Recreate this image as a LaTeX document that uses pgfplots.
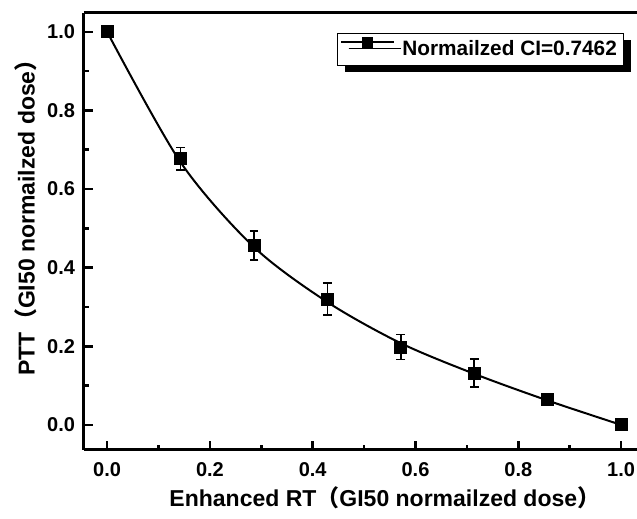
\documentclass[border=0pt]{standalone}
\usepackage{pgfplots}
\pgfplotsset{compat=1.18}
\usepackage{fontspec}
\setmainfont{Liberation Sans}
\newfontfamily\cjk{Noto Sans CJK SC}
\usetikzlibrary{shadows}
\begin{document}
\begin{tikzpicture}
\begin{axis}[
  scale only axis,
  width=276.5pt, height=218.5pt,
  xmin=-0.045, xmax=1.031, ymin=-0.064, ymax=1.048,
  axis x line=box, axis y line=left,
  y axis line style={-},
  axis line style={line width=1.5pt},
  xtick pos=bottom, ytick pos=left,
  tick align=inside,
  xtick={0,0.2,0.4,0.6,0.8,1.0},
  ytick={0,0.2,0.4,0.6,0.8,1.0},
  minor x tick num=1, minor y tick num=1,
  major tick length=4.5pt, minor tick length=2.5pt,
  every tick/.style={black, line width=1.3pt},
  ticklabel style={font=\bfseries\fontsize{10}{12}\selectfont},
  /pgf/number format/assume math mode=true,
  xticklabel style={yshift=-2.5pt, /pgf/number format/.cd, fixed, fixed zerofill, precision=1},
  yticklabel style={xshift=-1pt, /pgf/number format/.cd, fixed, fixed zerofill, precision=1},
  xlabel={\bfseries Enhanced RT{\cjk （}GI50 normailzed dose{\cjk ）}},
  ylabel={\bfseries PTT{\cjk （}GI50 normailzed dose{\cjk ）}},
  label style={font=\fontsize{11.5}{13}\selectfont},
  xlabel style={at={(axis description cs:0.544,0)}, anchor=center, yshift=-24pt},
  ylabel style={at={(axis description cs:0,0.545)}, anchor=center, yshift=29pt},
  legend style={at={(axis description cs:0.4575,0.954)}, anchor=north west,
    draw=black, line width=0.6pt, fill=white,
    font=\bfseries\fontsize{10.4}{12}\selectfont,
    inner xsep=1.5pt, inner ysep=1.5pt,
    /tikz/every odd column/.append style={column sep=2pt},
    drop shadow={shadow xshift=3.5pt, shadow yshift=-3pt, fill=black, opacity=1}},
  legend image code/.code={\draw[#1, sharp plot, mark repeat=2, mark phase=2, mark size=2.4pt, line width=0.9pt] plot coordinates {(0pt,3.7pt) (13pt,3.7pt) (26pt,3.7pt)};},
]
\addplot[black, line width=1pt, smooth, forget plot] coordinates {
(0,1) (0.143,0.668) (0.286,0.452) (0.429,0.312) (0.571,0.208) (0.714,0.13) (0.857,0.062) (1,0)};
\addplot[black, only marks, mark=square*, mark size=3pt,
  error bars/.cd, y dir=both, y explicit,
  error bar style={line width=0.8pt},
  error mark options={rotate=90, mark size=2.2pt, line width=0.8pt}]
coordinates {
(0,1) +- (0,0)
(0.142857,0.677) +- (0,0.029)
(0.285714,0.457) +- (0,0.037)
(0.428571,0.32) +- (0,0.041)
(0.571429,0.198) +- (0,0.032)
(0.714286,0.132) +- (0,0.035)
(0.857143,0.064) +- (0,0.01)
(1,0) +- (0,0)
};
\addlegendentry{Normailzed CI=0.7462}
\coordinate (bl) at (rel axis cs:0,0);
\coordinate (tr) at (rel axis cs:1,1);
\end{axis}
\pgfresetboundingbox
\path ([shift={(-42pt,-34.5pt)}]bl) rectangle ([shift={(0pt,6.5pt)}]tr);
\end{tikzpicture}
\end{document}
